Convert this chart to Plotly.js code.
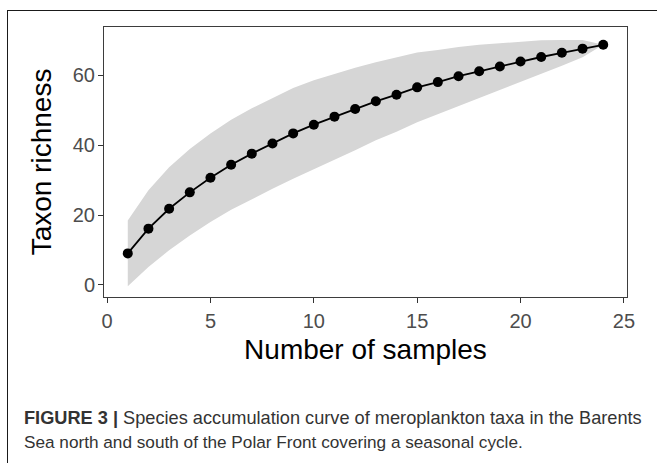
<!DOCTYPE html>
<html>
<head>
<meta charset="utf-8">
<script src="https://cdn.plot.ly/plotly-3.0.1.min.js"></script>
<style>
  html, body { margin: 0; padding: 0; background: #ffffff; }
  #chart { width: 657px; height: 463px; }
</style>
</head>
<body>
<div id="chart"></div>
<script>
// Number of pooled samples
const samples = [1, 2, 3, 4, 5, 6, 7, 8, 9, 10, 11, 12,
                 13, 14, 15, 16, 17, 18, 19, 20, 21, 22, 23, 24];

// Mean accumulated taxon richness
const richness = [9.0, 16.1, 21.8, 26.5, 30.7, 34.4, 37.6, 40.5, 43.4, 45.9, 48.2, 50.4,
                  52.6, 54.5, 56.6, 58.1, 59.8, 61.2, 62.6, 64.0, 65.3, 66.5, 67.7, 68.8];

// Half-width of the confidence band around the mean
const spread = [9.4, 11.0, 11.9, 12.4, 12.7, 12.9, 13.0, 13.0, 13.0, 12.7, 12.3, 11.8,
                11.2, 10.6, 10.0, 9.2, 8.4, 7.6, 6.7, 5.8, 4.8, 3.7, 2.5, 0.0];

const xTicks = [0, 5, 10, 15, 20, 25];
const yTicks = [0, 20, 40, 60];

const upper = richness.map((v, i) => v + spread[i]);
const lower = richness.map((v, i) => v - spread[i]);

// Closed polygon for the shaded band
const bandX = samples.concat(samples.slice().reverse());
const bandY = upper.concat(lower.slice().reverse());

const band = {
  x: bandX, y: bandY,
  type: 'scatter', mode: 'lines',
  fill: 'toself', fillcolor: '#d6d6d6',
  line: { width: 0, color: 'rgba(0,0,0,0)' },
  hoverinfo: 'skip', showlegend: false
};

const curve = {
  x: samples, y: richness,
  type: 'scatter', mode: 'lines+markers',
  line: { color: '#000000', width: 1.8 },
  marker: { color: '#000000', size: 10 },
  showlegend: false
};

// Plot area in pixels: left 104, right 627, top 27, bottom 297
const W = 657, H = 463, L = 104, R = 627, T = 27, B = 297;
const px = v => (v - L) / (R - L);
const py = v => (B - v) / (B - T);

const font = "'Liberation Sans', Arial, sans-serif";

const layout = {
  width: W, height: H,
  margin: { l: L, r: W - R, t: T, b: H - B, pad: 0 },
  paper_bgcolor: '#ffffff',
  plot_bgcolor: '#ffffff',
  font: { family: font, color: '#4d4d4d' },
  xaxis: {
    range: [-0.15, 25.15],
    tickvals: xTicks, ticktext: xTicks.map(String),
    ticks: 'outside', ticklen: 5, tickwidth: 1, tickcolor: '#333333',
    tickfont: { family: font, size: 20, color: '#4d4d4d' },
    ticklabelstandoff: 1,
    showline: true, mirror: true, linecolor: '#3d3d3d', linewidth: 1,
    showgrid: false, zeroline: false,
    title: { text: 'Number of samples', font: { family: font, size: 28, color: '#000000' }, standoff: 8 }
  },
  yaxis: {
    range: [-3.5, 73.9],
    tickvals: yTicks, ticktext: yTicks.map(String),
    ticks: 'outside', ticklen: 5, tickwidth: 1, tickcolor: '#333333',
    tickfont: { family: font, size: 20, color: '#4d4d4d' },
    ticklabelstandoff: -1,
    showline: true, mirror: true, linecolor: '#3d3d3d', linewidth: 1,
    showgrid: false, zeroline: false,
    title: { text: 'Taxon richness', font: { family: font, size: 28, color: '#000000' }, standoff: 12 }
  },
  shapes: [
    // frame around the figure and caption
    { type: 'line', xref: 'paper', yref: 'paper',
      x0: px(7), x1: px(W + 5), y0: py(10.5), y1: py(10.5),
      line: { color: '#1a1a1a', width: 1 } },
    { type: 'line', xref: 'paper', yref: 'paper',
      x0: px(7.5), x1: px(7.5), y0: py(10), y1: py(H + 5),
      line: { color: '#1a1a1a', width: 1 } }
  ],
  annotations: [
    { xref: 'paper', yref: 'paper', x: px(22), y: py(418),
      xanchor: 'left', yanchor: 'middle', showarrow: false, align: 'left',
      text: '<b>FIGURE 3 |</b> Species accumulation curve of meroplankton taxa in the Barents',
      font: { family: font, size: 18.2, color: '#333333' } },
    { xref: 'paper', yref: 'paper', x: px(22), y: py(442),
      xanchor: 'left', yanchor: 'middle', showarrow: false, align: 'left',
      text: 'Sea north and south of the Polar Front covering a seasonal cycle.',
      font: { family: font, size: 17.2, color: '#333333' } }
  ]
};

Plotly.newPlot('chart', [band, curve], layout, { displayModeBar: false, staticPlot: true });
</script>
</body>
</html>
